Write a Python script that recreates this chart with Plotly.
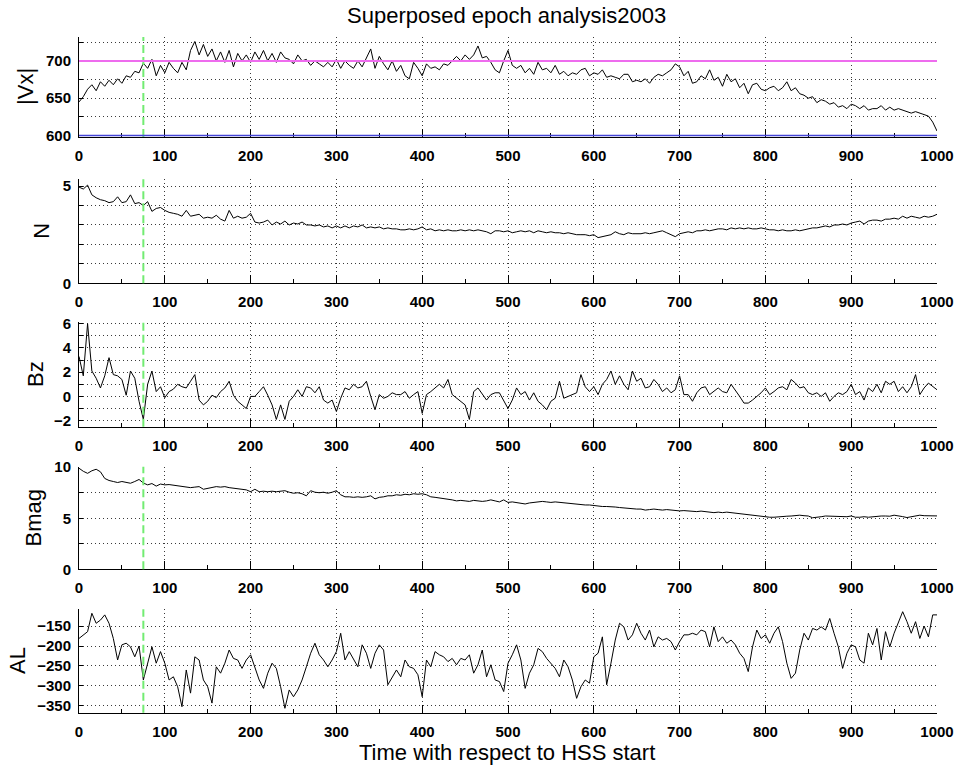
import plotly.graph_objects as go

step = 5

vx = [645, 652, 662, 668, 660, 672, 666, 674, 668, 676, 670, 680, 678, 686, 684, 697, 690, 702, 680, 694,
      684, 698, 690, 684, 698, 688, 714, 726, 708, 722, 706, 716, 700, 712, 698, 714, 692, 710, 700, 708,
      698, 712, 702, 714, 700, 710, 698, 712, 704, 702, 696, 708, 700, 702, 694, 700, 696, 692, 698, 692,
      702, 690, 700, 694, 690, 700, 692, 704, 716, 690, 706, 696, 688, 700, 686, 694, 680, 676, 698, 690,
      680, 696, 690, 692, 688, 696, 694, 700, 706, 700, 708, 702, 708, 720, 704, 706, 698, 688, 684, 700,
      714, 694, 690, 694, 684, 690, 682, 698, 688, 690, 684, 694, 682, 686, 680, 684, 682, 688, 690, 680,
      684, 682, 688, 678, 680, 678, 676, 682, 682, 672, 674, 672, 676, 670, 678, 682, 680, 684, 688, 696,
      692, 680, 686, 670, 672, 680, 676, 688, 674, 678, 666, 682, 672, 676, 664, 670, 656, 668, 670, 662,
      660, 664, 666, 660, 664, 672, 660, 664, 656, 654, 650, 652, 644, 648, 646, 642, 644, 638, 640, 636,
      642, 640, 636, 640, 634, 636, 636, 640, 634, 638, 634, 636, 634, 632, 630, 632, 630, 628, 626, 618,
      606]

density = [4.95, 4.85, 5.05, 4.55, 4.4, 4.3, 4.25, 4.15, 4.2, 4.45, 4.15, 4.2, 4.55, 4.1, 4.15, 4.0, 4.2, 3.7, 3.85, 3.9,
           3.75, 3.65, 3.6, 3.55, 3.45, 3.75, 3.45, 3.5, 3.55, 3.35, 3.4, 3.35, 3.5, 3.3, 3.2, 3.75, 3.35, 3.45, 3.35, 3.4,
           3.6, 3.15, 3.1, 3.15, 3.25, 3.0, 3.15, 3.05, 3.2, 3.0, 3.1, 3.05, 3.15, 3.0, 3.0, 2.95, 3.0, 2.9, 2.95, 2.85,
           2.95, 2.85, 2.95, 2.85, 2.95, 2.9, 3.0, 2.85, 2.9, 2.85, 2.9, 2.8, 2.85, 2.8, 2.8, 2.75, 2.75, 2.8, 2.75, 2.8,
           2.9, 2.75, 2.8, 2.7, 2.75, 2.7, 2.75, 2.7, 2.7, 2.75, 2.7, 2.75, 2.7, 2.75, 2.7, 2.65, 2.55, 2.7, 2.7, 2.65,
           2.7, 2.6, 2.65, 2.7, 2.65, 2.7, 2.6, 2.7, 2.65, 2.6, 2.65, 2.6, 2.6, 2.55, 2.6, 2.55, 2.5, 2.5, 2.5, 2.45,
           2.5, 2.35, 2.4, 2.45, 2.5, 2.65, 2.55, 2.5, 2.6, 2.55, 2.55, 2.55, 2.6, 2.55, 2.6, 2.65, 2.7, 2.6, 2.5, 2.4,
           2.55, 2.6, 2.65, 2.6, 2.7, 2.7, 2.75, 2.7, 2.75, 2.8, 2.8, 2.75, 2.85, 2.8, 2.85, 2.8, 2.85, 2.8, 2.8, 2.85,
           2.8, 2.75, 2.75, 2.7, 2.75, 2.7, 2.7, 2.75, 2.7, 2.75, 2.8, 2.85, 2.85, 2.9, 2.95, 2.9, 3.0, 3.0, 3.05, 3.0,
           3.1, 3.15, 3.2, 3.05, 3.2, 3.25, 3.25, 3.2, 3.3, 3.3, 3.35, 3.3, 3.45, 3.35, 3.45, 3.4, 3.35, 3.45, 3.4, 3.45,
           3.55]

bz = [3.3, 1.7, 6.0, 2.1, 1.5, 0.7, 1.7, 3.2, 1.8, 1.7, 1.4, 0.1, 2.1, 1.5, -0.4, -1.9, 1.0, 2.1, 0.4, 0.8,
      -0.1, 0.4, 0.6, 1.0, 0.8, 0.7, 1.25, 1.8, -0.3, -0.7, -0.4, 0.1, -0.1, 0.4, 0.7, 1.25, 0.1, -0.4, -0.7, -1.0,
      0.0, 0.0, 0.4, 0.8, 0.1, -0.7, -1.9, -0.7, -1.9, -0.4, 0.0, 0.55, 0.0, 0.8, 0.7, 0.3, 0.8, -0.3, -0.55, -0.3,
      -1.25, -0.15, 0.7, 0.55, 1.0, 0.7, 0.8, 1.25, 0.0, -1.1, 0.15, -0.15, 0.0, 0.3, 0.15, 0.15, 0.4, -0.15, 0.15, 0.4,
      -1.4, 0.15, 0.4, 0.7, 1.0, 0.7, 1.4, 0.15, -0.15, -0.4, -0.7, -1.9, 0.4, 0.7, 0.15, -0.3, 0.15, 0.3, 0.3, -0.4,
      -1.0, -0.3, 0.7, 0.15, 0.4, -0.3, 0.3, -0.4, -0.7, -1.1, -0.4, -0.15, 1.25, -0.15, 0.0, 0.15, 0.3, 1.8, 0.8, 0.4,
      0.8, 0.15, 1.0, 1.4, 2.1, 1.0, 1.7, 1.0, 0.55, 2.1, 1.25, 1.5, 0.7, 0.8, 1.4, 1.0, 0.4, 0.7, 0.3, 0.55,
      1.7, 0.15, 0.15, -0.4, 0.3, 0.7, 0.8, 0.15, 0.4, 0.7, 0.4, 0.3, 1.0, 0.55, 0.0, -0.55, -0.55, -0.3, 0.0, 0.3,
      0.7, 0.15, 0.4, 0.7, 0.8, 0.55, 1.4, 1.1, 0.7, 0.8, 0.3, 0.15, 0.3, 0.0, 0.3, -0.4, 0.0, 0.3, 0.15, 0.4,
      1.0, 0.15, 0.4, -0.3, 0.7, 0.4, 1.0, 0.3, 1.25, 1.0, 1.25, 0.4, 0.8, 0.3, 0.8, 1.8, 0.15, 0.7, 1.1, 0.8,
      0.55]

bmag = [9.9, 9.6, 9.4, 9.65, 9.8, 9.55, 8.9, 8.7, 8.6, 8.5, 8.6, 8.5, 8.43, 8.6, 8.8, 8.45, 8.27, 8.4, 8.15, 8.35,
        8.27, 8.3, 8.25, 8.15, 8.1, 8.05, 8.0, 8.05, 8.1, 7.84, 7.95, 8.0, 8.1, 8.05, 8.1, 8.0, 7.95, 7.9, 7.84, 7.78,
        7.6, 7.84, 7.6, 7.65, 7.6, 7.65, 7.6, 7.65, 7.7, 7.55, 7.45, 7.5, 7.4, 7.2, 7.7, 7.55, 7.5, 7.55, 7.45, 7.55,
        7.7, 7.3, 7.1, 7.1, 7.05, 7.1, 7.05, 7.1, 7.2, 6.9, 7.05, 7.1, 7.2, 7.2, 7.3, 7.25, 7.35, 7.3, 7.4, 7.35,
        7.4, 7.3, 7.1, 7.05, 7.0, 6.95, 6.9, 6.8, 6.7, 6.75, 6.7, 6.65, 6.75, 6.7, 6.65, 6.7, 6.8, 6.7, 6.6, 6.8,
        6.55, 6.6, 6.55, 6.5, 6.4, 6.5, 6.55, 6.6, 6.65, 6.6, 6.55, 6.6, 6.55, 6.5, 6.5, 6.45, 6.4, 6.35, 6.3, 6.3,
        6.24, 6.2, 6.15, 6.15, 6.15, 6.1, 6.05, 6.0, 6.0, 5.95, 5.9, 5.9, 5.8, 5.85, 5.9, 5.85, 5.8, 5.85, 5.8, 5.75,
        5.72, 5.75, 5.72, 5.7, 5.65, 5.7, 5.65, 5.6, 5.55, 5.6, 5.55, 5.6, 5.55, 5.5, 5.4, 5.4, 5.3, 5.3, 5.2, 5.2,
        5.16, 5.1, 5.1, 5.15, 5.16, 5.2, 5.22, 5.25, 5.3, 5.25, 5.22, 5.05, 5.07, 5.15, 5.22, 5.2, 5.16, 5.12, 5.1, 5.15,
        5.22, 5.1, 5.1, 5.15, 5.1, 5.15, 5.2, 5.22, 5.22, 5.2, 5.3, 5.25, 5.16, 5.07, 5.15, 5.25, 5.3, 5.25, 5.22, 5.2,
        5.23]

al = [-181, -172, -164, -118, -143, -135, -122, -143, -181, -235, -197, -193, -202, -227, -200, -285, -243, -202, -243, -214,
      -243, -285, -277, -302, -352, -260, -318, -227, -235, -285, -302, -343, -252, -268, -243, -210, -231, -235, -256, -235,
      -222, -252, -285, -306, -268, -243, -256, -302, -356, -310, -327, -310, -285, -252, -218, -193, -222, -235, -252, -235,
      -214, -168, -235, -214, -235, -252, -197, -218, -256, -218, -197, -210, -297, -277, -260, -277, -235, -252, -256, -272,
      -327, -235, -252, -214, -222, -227, -239, -231, -247, -231, -235, -222, -268, -247, -210, -277, -247, -285, -289, -314,
      -243, -222, -197, -235, -306, -268, -247, -206, -214, -231, -243, -256, -277, -235, -252, -285, -331, -302, -285, -293,
      -227, -218, -177, -297, -243, -185, -143, -152, -185, -172, -143, -168, -185, -160, -202, -177, -185, -181, -189, -210,
      -189, -172, -172, -168, -172, -160, -164, -202, -152, -189, -177, -193, -185, -197, -218, -231, -264, -202, -160, -181,
      -172, -193, -168, -152, -189, -243, -281, -268, -210, -168, -185, -156, -160, -152, -160, -131, -168, -202, -256, -218,
      -197, -202, -235, -243, -168, -197, -156, -235, -164, -202, -168, -139, -114, -139, -168, -139, -181, -150, -177, -122,
      -122]

panel_labels = ["|Vx|", "N", "Bz", "Bmag", "AL"]
series = [vx, density, bz, bmag, al]
x_ticks = [0, 100, 200, 300, 400, 500, 600, 700, 800, 900, 1000]
hss_mark = 75
vx_ref_high = 700
vx_ref_low = 600

# ---------------- layout geometry ----------------
W, H = 958, 768
x_left, x_right = 79, 937
panels_px = [(37, 137), (179.3, 283.3), (322.3, 426.7), (466.7, 569.3), (609.3, 712.7)]
y_ranges = [[598, 732], [0, 5.35], [-2.5, 6.12], [0, 10.05], [-367, -108]]
y_major = [dict(dtick=50, tick0=600), dict(dtick=5, tick0=0), dict(dtick=2, tick0=0),
           dict(dtick=5, tick0=0), dict(dtick=50, tick0=-150)]
y_minor = [25, 1, 1, 2.5, None]
label_cx = [25, 41.5, 35.5, 32.5, 17]

FONT = "Liberation Sans, Arial, sans-serif"
GRID = "#3a3a3a"
GDASH = "1px,3px"

fig = go.Figure()
shapes = []
annotations = []

for i, (vals, (ptop, pbot)) in enumerate(zip(series, panels_px)):
    n = i + 1
    xa = "x" if n == 1 else f"x{n}"
    ya = "y" if n == 1 else f"y{n}"
    t = list(range(0, step * len(vals), step))
    fig.add_trace(go.Scatter(x=t, y=vals, mode="lines", xaxis=xa, yaxis=ya,
                             line=dict(color="black", width=1), showlegend=False,
                             hoverinfo="skip"))
    dom_y = [1 - pbot / H, 1 - ptop / H]
    xkey = "xaxis" if n == 1 else f"xaxis{n}"
    ykey = "yaxis" if n == 1 else f"yaxis{n}"
    fig.layout[xkey] = dict(
        domain=[x_left / W, x_right / W], anchor=ya, range=[0, 1000],
        tickmode="array", tickvals=x_ticks, ticktext=[str(v) for v in x_ticks],
        ticks="inside", ticklen=8, tickcolor="black", tickwidth=1,
        minor=dict(dtick=50, tick0=0, ticks="inside", ticklen=4, tickcolor="black", showgrid=False),
        showgrid=True, gridcolor=GRID, griddash=GDASH, gridwidth=1,
        showline=True, linecolor="black", linewidth=1, mirror=False,
        zeroline=False, tickfont=dict(family=FONT, size=15, color="black", weight="bold"),
        ticklabelstandoff=5, automargin=False,
    )
    ymin = dict(ticks="inside", ticklen=4, tickcolor="black",
                showgrid=True, gridcolor=GRID, griddash=GDASH, gridwidth=1)
    if y_minor[i] is not None:
        ymin.update(dtick=y_minor[i], tick0=y_major[i]["tick0"])
    yax = dict(
        domain=dom_y, anchor=xa, range=y_ranges[i],
        tickmode="linear", dtick=y_major[i]["dtick"], tick0=y_major[i]["tick0"],
        ticks="inside", ticklen=4, tickcolor="black",
        showgrid=True, gridcolor=GRID, griddash=GDASH, gridwidth=1,
        showline=True, linecolor="black", linewidth=1, mirror=False,
        zeroline=False, tickfont=dict(family=FONT, size=15, color="black", weight="bold"),
        ticklabelstandoff=4, automargin=False,
    )
    if y_minor[i] is not None:
        yax["minor"] = ymin
    fig.layout[ykey] = yax

    # green dashed HSS start marker
    shapes.append(dict(type="line", xref=xa, yref=f"{ya} domain", x0=hss_mark, x1=hss_mark,
                       y0=0, y1=1, line=dict(color="#72ec72", width=2, dash="8px,4px"), layer="above"))

    annotations.append(dict(text=panel_labels[i], xref="paper", yref="paper",
                            x=label_cx[i] / W, y=1 - (ptop + pbot) / 2 / H,
                            xanchor="center", yanchor="middle", textangle=-90, showarrow=False,
                            font=dict(family=FONT, size=22, color="black")))

# reference levels in |Vx| panel
shapes.append(dict(type="line", xref="x domain", yref="y", x0=0, x1=1, y0=vx_ref_high, y1=vx_ref_high,
                   line=dict(color="#ee6cee", width=2), layer="above"))
shapes.append(dict(type="line", xref="x domain", yref="y", x0=0, x1=1, y0=vx_ref_low, y1=vx_ref_low,
                   line=dict(color="#4646d8", width=1.5), layer="above"))

annotations.append(dict(text="Superposed epoch analysis2003", xref="paper", yref="paper",
                        x=506 / W, y=1 - 15 / H, xanchor="center", yanchor="middle", showarrow=False,
                        font=dict(family=FONT, size=22, color="black")))
annotations.append(dict(text="Time with respect to HSS start", xref="paper", yref="paper",
                        x=506.5 / W, y=1 - 752 / H, xanchor="center", yanchor="middle", showarrow=False,
                        font=dict(family=FONT, size=22, color="black")))

fig.update_layout(width=W, height=H, margin=dict(l=0, r=0, t=0, b=0),
                  paper_bgcolor="white", plot_bgcolor="white",
                  shapes=shapes, annotations=annotations, showlegend=False)

fig.write_html("out.html")
